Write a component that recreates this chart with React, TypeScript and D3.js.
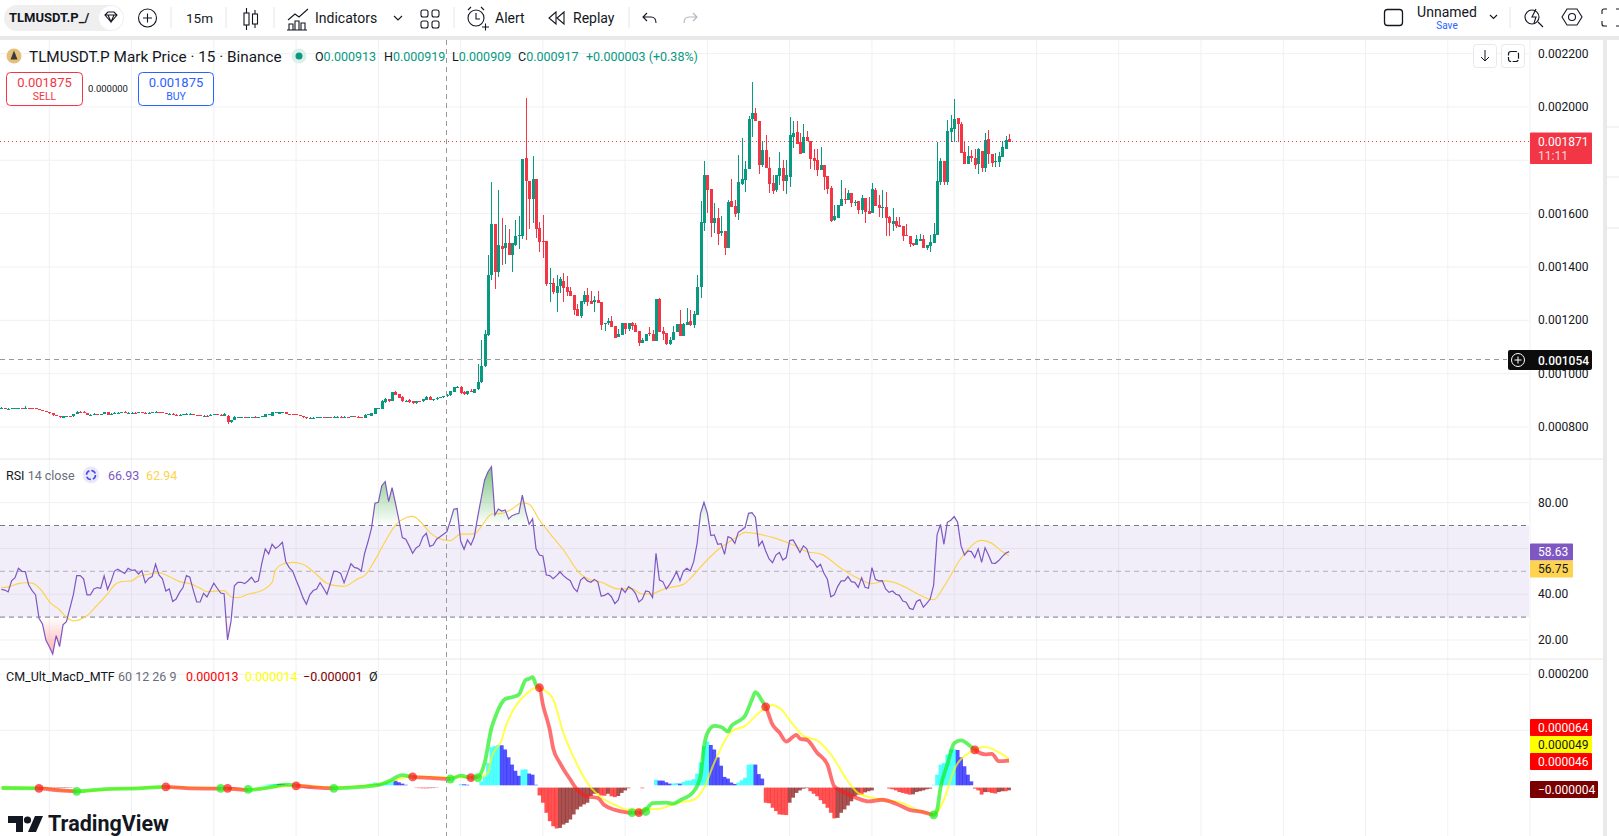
import React from "react";
import * as d3 from "d3";

// all prices in 1e-6 units, one row per 15m bar: open, high, low, close
const flatCandles = [
  [868,876,866,871],[871,872,866,868],[868,873,865,868],[868,871,868,871],[871,872,870,871],[871,872,870,871],[871,872,870,870],[870,877,870,872],[872,873,870,871],[871,872,869,870],
  [870,870,866,867],[867,868,862,864],[864,864,859,861],[861,861,855,856],[856,856,849,851],[851,851,840,844],[844,845,842,843],[843,843,832,836],[833,842,832,841],[841,843,840,842],
  [842,843,840,841],[840,850,839,850],[850,859,848,858],[858,859,856,857],[857,861,851,854],[853,853,844,846],[846,849,844,846],[846,853,846,849],[849,850,847,848],[848,850,847,849],
  [850,858,847,855],[855,855,844,845],[846,851,845,850],[850,855,849,853],[853,857,852,854],[854,856,853,855],[855,859,853,853],[853,856,852,854],[854,855,853,854],[854,855,852,853],
  [853,858,852,855],[855,856,852,853],[853,855,851,852],[850,855,847,853],[853,857,852,855],[855,859,854,856],[856,857,854,855],[855,855,852,853],[853,853,849,850],[850,851,849,850],
  [850,851,845,846],[846,847,844,845],[845,847,844,846],[846,849,845,848],[848,851,848,850],[850,851,849,850],[850,850,845,846],[846,846,844,845],[845,845,842,843],[843,844,842,843],
];
const dipCandles = [
  [843,845,841,842],[844,848,843,846],[846,848,845,847],[847,848,845,846],[846,847,841,843],[843,851,841,848],[842,845,812,817],[817,828,816,827],[827,840,826,838],[837,838,836,837],
  [837,838,836,838],[838,839,836,837],[837,838,835,837],[837,839,836,838],[838,840,836,837],[837,838,835,837],[837,843,836,842],[838,848,837,847],[847,848,846,847],[842,856,841,855],
  [855,857,854,855],[850,856,849,855],[855,857,854,856],[856,857,847,849],[849,850,847,848],[848,848,846,847],[847,848,844,845],[845,846,840,841],[841,841,834,836],[836,836,830,834],
  [833,836,832,835],[835,836,834,835],[835,838,834,838],[838,839,836,838],[838,838,834,835],[835,839,832,837],[837,839,833,835],[835,842,833,838],[838,840,836,839],[839,840,835,836],
  [836,840,835,838],[838,839,835,836],[836,842,836,840],[840,841,838,839],[839,840,836,837],[837,839,834,835],
];
const firstStepCandles = [
  [835,848,834,846],[846,849,845,847],[842,854,841,853],[850,872,849,872],[870,873,868,871],[868,900,866,898],[893,907,890,906],[904,906,892,898],[898,932,896,932],[932,934,920,921],
  [923,925,909,910],[913,915,895,899],[899,901,896,899],[901,904,890,894],[898,899,885,889],[889,898,887,897],[897,899,894,895],[896,905,895,904],[901,915,900,913],[913,916,900,903],
  [903,906,898,905],[905,912,902,910],[908,914,907,912],[911,918,910,915],[915,922,913,919],[920,936,918,934],[933,950,931,949],[950,955,948,950],[951,955,925,929],[933,936,921,922],
  [922,935,920,934],[936,944,930,930],[929,944,928,943],[941,1037,938,970],
];
const spikeCandles = [
  [967,1127,964,1030],[1027,1162,1025,1150],[1146,1446,1140,1371],[1371,1720,1352,1562],[1562,1562,1317,1383],[1380,1689,1361,1483],[1479,1583,1408,1468],[1473,1558,1412,1491],[1491,1543,1446,1446],[1446,1491,1380,1491],
  [1483,1577,1477,1517],[1517,1592,1468,1521],[1517,1805,1506,1805],[1809,2034,1502,1723],[1723,1723,1543,1655],[1655,1816,1564,1730],[1730,1730,1509,1543],[1547,1569,1457,1494],[1497,1596,1435,1495],[1498,1498,1330,1337],
];
const baseCandles = [
  [1337,1397,1270,1340],[1341,1360,1300,1307],[1304,1371,1232,1330],[1330,1363,1304,1356],[1348,1378,1270,1322],[1326,1367,1292,1307],[1311,1326,1292,1292],[1296,1296,1221,1240],[1244,1262,1217,1217],[1217,1274,1210,1274],
  [1270,1311,1262,1296],[1296,1322,1255,1270],[1274,1311,1262,1262],[1267,1292,1232,1277],[1277,1311,1266,1266],[1270,1270,1165,1184],[1186,1191,1161,1191],[1189,1210,1182,1199],[1199,1217,1176,1176],[1180,1180,1135,1135],
  [1139,1169,1139,1150],[1146,1191,1146,1191],[1191,1191,1150,1169],[1169,1191,1161,1191],[1191,1195,1165,1180],[1184,1191,1157,1157],[1161,1161,1105,1116],[1116,1135,1116,1128],[1124,1150,1124,1150],[1154,1176,1143,1150],
  [1150,1165,1124,1124],[1124,1281,1124,1281],[1281,1285,1157,1157],[1161,1176,1128,1150],[1154,1154,1109,1112],[1112,1139,1109,1128],[1128,1180,1128,1157],[1155,1187,1155,1187],[1187,1240,1142,1142],[1142,1191,1142,1187],
  [1181,1247,1181,1195],[1199,1240,1180,1184],[1184,1236,1172,1225],[1221,1371,1221,1326],[1326,1648,1285,1569],[1566,1798,1536,1745],
];
const topCandles = [
  [1745,1745,1603,1689],[1693,1693,1513,1566],[1566,1640,1528,1584],[1584,1622,1483,1524],[1527,1592,1517,1535],[1535,1535,1446,1473],[1473,1652,1473,1645],[1648,1731,1626,1626],[1630,1652,1589,1600],[1604,1821,1577,1720],
  [1712,1883,1708,1731],[1727,1798,1682,1768],[1768,1967,1768,1956],[1956,2094,1889,1978],[1978,1997,1948,1948],[1948,1948,1750,1783],[1783,1873,1776,1839],[1839,1896,1772,1772],[1772,1813,1678,1712],[1716,1746,1675,1686],
  [1690,1746,1682,1746],[1742,1832,1708,1772],[1772,1802,1686,1723],[1723,1802,1675,1746],[1738,1963,1701,1896],[1888,1948,1847,1903],[1907,1948,1862,1862],[1869,1903,1824,1824],[1828,1937,1828,1888],[1888,1911,1873,1873],
  [1873,1873,1768,1806],[1810,1843,1764,1798],[1802,1843,1742,1765],[1765,1851,1765,1783],[1783,1783,1690,1738],[1742,1742,1675,1693],[1697,1705,1570,1574],[1577,1634,1574,1592],[1585,1634,1585,1634],[1630,1727,1630,1656],
  [1656,1697,1637,1652],[1652,1690,1652,1678],[1678,1678,1626,1641],[1642,1652,1630,1645],[1648,1648,1600,1615],[1615,1671,1600,1660],[1660,1660,1566,1607],[1611,1664,1600,1600],
];
const secondBaseCandles = [
  [1604,1716,1604,1693],[1690,1697,1630,1630],[1634,1671,1589,1622],[1622,1690,1585,1626],[1626,1682,1517,1585],[1589,1592,1517,1566],[1562,1622,1536,1574],[1574,1589,1547,1555],[1559,1589,1551,1551],[1555,1555,1499,1517],
  [1521,1562,1515,1515],[1517,1517,1476,1488],[1491,1491,1480,1484],[1484,1521,1484,1503],[1499,1525,1499,1506],[1506,1521,1473,1473],[1473,1484,1465,1484],[1480,1521,1458,1495],[1491,1566,1491,1525],[1521,1869,1521,1723],
  [1720,1810,1708,1798],[1798,1798,1708,1720],[1720,1952,1708,1911],[1907,1970,1869,1922],[1918,2030,1869,1955],[1959,1959,1869,1937],[1937,1944,1828,1828],
];
const lastCandles = [
  [1832,1869,1786,1787],[1787,1854,1785,1817],[1817,1840,1795,1810],[1810,1843,1768,1783],[1787,1847,1750,1843],[1836,1836,1755,1772],[1772,1903,1755,1877],[1881,1914,1787,1824],[1824,1824,1775,1790],[1794,1828,1775,1798],
  [1794,1832,1775,1817],[1813,1873,1811,1850],[1843,1891,1843,1877],[1880,1899,1869,1869],
];
const candles = [...flatCandles, ...dipCandles, ...firstStepCandles, ...spikeCandles, ...baseCandles, ...topCandles, ...secondBaseCandles, ...lastCandles];

const priceTicks = [2200, 2000, 1800, 1600, 1400, 1200, 1000, 800];
const rsiTicks = [80, 60, 40, 20];
const rsiLevels = [70, 50, 30];
const macdTicks = [200, 100];

const rsiValues = [
  42.1,41.8,41,45.8,47.2,51.3,50,49.9,44,41.6,39.7,29.5,27,20,17.1,13.9,21.9,17.1,26.6,28,
  33.8,39.7,48.1,48.1,46.7,39.7,39.7,42.3,42.9,42.6,48,42.1,45.5,50.1,50.9,49.9,49.1,51.3,50.4,50.6,
  48.8,50.3,45,46.9,47.7,53.1,48.4,46.7,41.4,42.3,36.8,37.9,40.8,42.9,48.1,47.4,41.8,36.6,36.6,40.4,
  38.8,41.8,44.8,42.6,40.5,40.2,20,28,43.7,45.2,45.2,44.6,45.9,47.4,45.2,45.8,53.5,59.8,57.6,61.8,
  60,61.1,62.7,54.2,51.6,50.1,46.2,42.6,38.5,35.6,39.7,41.6,42.3,45,42.6,40,44.8,50.1,49.9,49.1,
  45,49.1,53.3,51.7,51.3,50.1,57.9,63,68.8,79.7,80.1,87.4,89.2,80.4,86.5,79.7,72.4,64.7,64,61.1,
  57.9,60.2,61.2,65.1,66.6,60.9,61.5,64,65.1,66.2,67.3,72,77.1,77.4,63.2,59.6,63.7,61.5,65.1,73.9,
  81.9,89.9,93.5,95.7,74.6,77.2,76.3,76.8,72.9,74.3,74.9,75.3,83.3,76.1,70.5,72.9,59.8,57.1,56.7,48.4,
  48.1,46.8,48.1,49.7,48.1,46.9,45.9,42.6,41.1,46.2,47.4,45.8,45.2,46.4,45.5,39.2,39.5,40.4,38.9,35.9,
  37.5,42.6,40.8,43.3,42.3,40.4,36.6,37.8,41.4,41.1,38.5,57.9,46.2,45.5,42.3,44.3,46.9,49.9,45.9,50.1,
  51.3,50.1,54.2,62.2,75.3,80.1,75.3,65.6,65.9,61.8,62.1,57.4,65.1,64.4,62.2,67,68,69.2,75.3,75.6,
  73.6,61.1,63.2,58.9,55.4,53.8,57.1,58.2,54.9,56,63.4,63.7,61.1,58.2,61.1,59.8,55.4,54.2,51.7,53.1,
  49.1,46.5,38.9,39.7,43.3,45.8,45.8,47.7,45.5,45.2,43,47.2,43,42.6,51.6,46.5,45.8,45.9,42.3,40.8,
  41.4,40,39.5,37,36.5,33.8,33.3,36.8,37.6,34.3,36,37.9,44,65.9,70.5,61.8,71.4,72.3,73.9,71.4,
  61.1,57.1,58.9,58.6,56,59.8,53.9,60.3,57.1,53.6,53.5,54.7,56.4,57.9,58.6,
];

const rsiMaBars = [0,2,5,7,9,12,14,17,19,21,23,25,28,31,33,35,38,40,43,46,49,52,55,58,60,65,67,69,72,76,79,80,82,85,88,91,95,98,100,104,106,109,112,115,118,120,122,125,129,131,134,138,140,143,146,149,152,154,157,160,164,169,172,175,180,184,187,189,194,199,202,205,209,214,217,221,226,231,235,239,245,250,254,258,264,267,272,275,280,286,289,292,294];
const rsiMaValues = [42.9,43.2,44.6,45,44.8,41.1,36.8,33.1,29.9,28.3,29,30.6,35.3,40.1,44,45.5,45.8,47.8,48.7,49.4,47.7,45.5,44.6,42.6,41.1,41.6,38.9,38.5,40,41.6,45.2,50.6,53.1,53.9,53.1,49.9,44.8,43.6,43.4,46.7,48.1,54.9,63,70.2,73.4,74,72.1,67,63.7,63.4,66.2,66.3,69.5,74.9,75.3,77.2,80,79.3,72.4,66.6,59.3,48.7,46.2,45.2,42.3,42.3,40,40,42.6,44.3,48.4,53.5,59.3,64.4,67,66.2,64.4,61.5,58.6,57.6,51.3,46.9,44.6,45.8,42.9,40.4,37.6,43.3,55.7,63.5,62.2,58.6,56.75];

const macdBars = [0,11,16,22,30,40,48,55,64,66,72,79,83,86,91,97,105,110,113,117,120,125,131,134,137,139,141,143,144,146,147,149,151,153,154,155,156,157,158,160,161,163,166,168,171,174,176,179,182,186,188,190,194,196,198,202,204,205,206,208,210,212,213,215,217,219,220,222,223,225,227,229,232,233,235,238,241,243,246,250,253,257,261,265,269,272,273,274,276,278,280,283,284,287,289,291,294];
const macdValues = [-3,-3.6,-7,-9,-5,-3.6,-1.2,-3.6,-4.2,-4.2,-6.5,-1.2,3,1.8,-1.8,-3.6,-1.2,2.4,8.9,20,16.7,15,13,19,15.5,16.7,41.6,104,122,149,156,159,164,190,192,195,181,176,146,101,68,41.6,12,-6,-18,-21,-34,-42,-46,-47.6,-42,-30,-29,-31,-25,-9,18,71,95,108,106,98,108,116,126,155,168,152,142,110,96,80,92,85,83,60,39,0,-11,-22,-27,-24,-31,-42,-46,-51,-42,-3,39,77,82,70,65,57,58,45,46];
const signalBars = [0,11,16,22,30,48,64,72,83,86,97,106,112,117,120,131,139,142,143,146,147,150,153,156,157,158,161,164,168,171,174,179,183,192,197,202,205,208,213,217,221,225,227,231,234,238,242,247,250,257,263,267,271,272,275,278,283,287,292,294];
const signalValues = [-2.4,-2.4,-6,-9,-6,-1.2,-3.6,-5.4,0.6,1.8,-1.8,1.2,6,15,18,16,16,24,51,83,104,143,164,176,176,173,155,95,39,6,-15,-33,-42,-40,-30,-24,-3,42,98,108,131,145,140,110,90,82,57,9,-12,-24,-30,-42,-49,-51,-24,30,62,70,57,49];

const histValues = [
  0,0,0,0,0,0,0,0,0,0,0,0,-0.5,-1,-1.2,-1.4,-1.5,-1.2,-1,-0.8,
  -0.5,-0.3,0,0,0,0,0,0,0,0,0,0,0,0,0,0,0,0,0,0,
  0,0,0,0,0,0,0,0,0,0,-0.3,-0.5,-0.7,-0.6,-0.4,0,0,0,0,0,
  0,0,0,0,-0.5,-1,-1.4,-1,-0.8,-0.5,-0.3,0,0,0,0,0,0.5,1,1.5,2,
  2.5,2.4,2,1,0,0,-0.5,-1,-1,-1,-0.8,-0.6,-0.4,0,0,0,0,0,0,0,
  0,0,0,0,0,0,0.5,1.5,3,5,2,4,5,6,8.8,8.3,5.4,3,1,0,
  0,-0.5,-1,-1.2,-1.3,-1,-0.8,-0.5,0,0,0,0,0,0,2,1.8,1,0,0,0,
  7,16,40,68,70,72,71.5,64,50,37,26,17,28,28.5,21,19,1,-14,-27,-45,
  -60,-69,-73,-72,-66,-63,-57,-48,-39,-34,-30,-27,-15,-11,-10.5,-14,-14.5,-11,-15.5,-17,
  -15,-9.5,-5,-1.2,0,0,0,-1.2,0,0,0,10,8.5,8.3,5.4,3,3.2,4,3,6,
  8.5,8.6,11,21,41,70,78,72,64,50,35,15,12,5,2.4,5,9,13.5,37,37.5,
  37,20,12,-27,-28,-36,-42,-48,-48.5,-49,-27,-18,-9.5,-5,-2,-1,-6.5,-11,-15.5,-22.5,
  -29,-36,-45,-55,-54,-45,-39,-32,-24.5,-15.5,-12.5,-12.6,-8.5,-6.5,-5,0,0,0,0,-1.8,
  -3,-5,-8,-9.5,-11,-12.5,-12,-8,-6.5,-5,-3,-1.8,1,19,37,40,55,64,64.5,63,
  50,34,19,7,-1.8,-5,-12.5,-8,-8,-9.5,-10.5,-8,-6.5,-6.5,-4.8,
];

// macd / signal crossings, red first then alternating with green
const crossBars = [11,22,48,64,66,72,86,97,120,131,137,139,157,184,186,188,223,272,284];
const crossValues = [-3.6,-9,-1.2,-3.6,-3.6,-5.4,0.6,-3.6,16.7,13,15.5,15.5,176,-47,-47,-45,142,-51,65];

const WIDTH = 1619;
const HEIGHT = 836;
const AXIS_X = 1529;
const PANE_RIGHT = 1603;
const TOP = 40;
const RSI_TOP = 459;
const MACD_TOP = 659;
const UI_FONT = "Roboto, sans-serif";
const GREEN = "#089981";
const RED = "#f23645";
const INK = "#131722";
const GRID = "#f0f1f4";
const PURPLE = "#7e57c2";
const GOLD = "#fdd34f";

const x = d3.scaleLinear().domain([14, 278]).range([49.3, 954.2]);
const yPrice = d3.scaleLinear().domain([800, 2200]).range([427, 53.6]);
const yRsi = d3.scaleLinear().domain([50, 80]).range([571.3, 502.6]);
const yMacd = d3.scaleLinear().domain([0, 200]).range([786.3, 674.3]);

const bars = d3.range(candles.length);
const xGrid = d3.range(-10, 450, 24);

const rsiLine = d3.line<number>().x((_, i) => x(i)).y(d => yRsi(d));
const rsiMaLine = d3.line<number>().x((_, i) => x(rsiMaBars[i])).y(d => yRsi(d)).curve(d3.curveMonotoneX);
const macdLine = d3.line<number>().x((_, i) => x(macdBars[i])).y(d => yMacd(d)).curve(d3.curveMonotoneX);
const signalLine = d3.line<number>().x((_, i) => x(signalBars[i])).y(d => yMacd(d)).curve(d3.curveMonotoneX);
const rsiUpper = d3.area<number>().x((_, i) => x(i)).y0(yRsi(70)).y1(d => yRsi(Math.max(d, 70)));
const rsiLower = d3.area<number>().x((_, i) => x(i)).y0(yRsi(30)).y1(d => yRsi(Math.min(d, 30)));

const histColor = (v: number, i: number) => {
  const prev = i > 0 ? histValues[i - 1] : 0;
  if (v >= 0) return v >= prev ? "#00ffff" : "#0000ff";
  return v <= prev ? "#ff0000" : "#800000";
};

const macdStretches = d3.range(crossBars.length + 1).map(i => ({
  from: i === 0 ? 0 : crossBars[i - 1],
  to: i === crossBars.length ? candles.length : crossBars[i],
  color: i % 2 === 0 ? "#00ee00" : "#ff1a1a",
}));

const Label: React.FC<{ y: number; h: number; w?: number; bg: string; fg: string; text: string }> = ({ y, h, w = 62, bg, fg, text }) => (
  <g>
    <rect x={1530} y={y} width={w} height={h} fill={bg} rx={1} />
    <text x={1538} y={y + h / 2 + 4} fontSize={12} fill={fg}>{text}</text>
  </g>
);

const Toolbar = () => {
  const stroke = { fill: "none", stroke: INK, strokeWidth: 1.1 };
  return (
    <g fontFamily={UI_FONT} fill={INK}>
      <rect x={0} y={0} width={WIDTH} height={36} fill="#fff" />
      <rect x={0} y={36} width={WIDTH} height={4} fill="#e9e9e9" />
      <rect x={4} y={5} width={120} height={26} rx={13} fill="#efefef" />
      <text x={9} y={22} fontSize={13} fontWeight={700}>TLMUSDT.P_/</text>
      <circle cx={111} cy={18} r={12} fill="#fff" />
      <path d="M105 15l3-3h6l3 3-6 7z M105 15h12 M108 15l3 7 3-7" {...stroke} />
      <circle cx={147.5} cy={18} r={9} {...stroke} />
      <path d="M143 18h9 M147.5 13.5v9" {...stroke} />
      <text x={186} y={23} fontSize={13.5}>15m</text>
      <rect x={244} y={13} width={5} height={12} {...stroke} />
      <path d="M246.5 8v5 M246.5 25v5 M255 14v-4 M255 24v4" {...stroke} />
      <rect x={252.5} y={14} width={5} height={10} {...stroke} />
      <path d="M288 20l7-6 4 3 9-8 M289 30v-6h4v6 M295 30v-9h4v9 M301 30v-7h4v7 M287 30h20" {...stroke} />
      <text x={315} y={23} fontSize={14}>Indicators</text>
      <path d="M394 16l4 4 4-4" {...stroke} />
      <rect x={421} y={10} width={7} height={7} rx={2} {...stroke} />
      <rect x={432} y={10} width={7} height={7} rx={2} {...stroke} />
      <rect x={421} y={21} width={7} height={7} rx={2} {...stroke} />
      <rect x={432} y={21} width={7} height={7} rx={2} {...stroke} />
      <circle cx={476} cy={18} r={8} {...stroke} />
      <path d="M476 13v6h4 M468 10l3-3 M484 10l-3-3 M482 27h7 M485.5 23.5v7" {...stroke} />
      <text x={495} y={23} fontSize={14}>Alert</text>
      <path d="M556 12l-7 6 7 6z M564 12l-7 6 7 6z" {...stroke} />
      <text x={573} y={23} fontSize={14}>Replay</text>
      <path d="M647 13l-4 4 4 4 M643 17h8q5 0 5 6" {...stroke} />
      <path d="M693 13l4 4-4 4 M697 17h-8q-5 0-5 6" fill="none" stroke="#b2b5be" strokeWidth={1.1} />
      {[171, 226, 274, 454, 629, 1510].map(sx => (
        <line key={sx} x1={sx} x2={sx} y1={7} y2={28} stroke="#e6e6e6" />
      ))}
      <rect x={1384.5} y={9.5} width={18} height={16} rx={3} {...stroke} strokeWidth={1.3} />
      <text x={1447} y={17} fontSize={14} textAnchor="middle">Unnamed</text>
      <text x={1447} y={29} fontSize={10} fill="#2962ff" textAnchor="middle">Save</text>
      <path d="M1490 15l3.5 3.5 3.5-3.5" {...stroke} />
      <circle cx={1532} cy={17} r={7} {...stroke} />
      <path d="M1538 22l5 5 M1536 9l-4 8h4l-2 6" {...stroke} />
      <path d="M1562 17l5-8h10l5 8-5 8h-10z" {...stroke} />
      <circle cx={1572} cy={17} r={3.5} {...stroke} />
      <path d="M1602 14v-3q0-2 2-2h3 M1619 9h-3 M1602 21v3q0 2 2 2h3 M1619 26h-3" {...stroke} />
    </g>
  );
};

const PriceLegend = () => (
  <g fontFamily={UI_FONT}>
    <circle cx={14} cy={56} r={7.5} fill="#e5c07b" />
    <path d="M14 50.5l-3.5 9h7z" fill="#3b3b3b" />
    <text x={29} y={61.5} fontSize={15.3} fill={INK}>TLMUSDT.P Mark Price · 15 · Binance</text>
    <circle cx={299} cy={56} r={7.5} fill="#dcefeb" />
    <circle cx={299} cy={56} r={3.5} fill={GREEN} />
    <text x={315} y={61} fontSize={12.5} fill={INK}>
      O<tspan fill={GREEN}>0.000913</tspan>
      <tspan x={384}>H</tspan><tspan fill={GREEN}>0.000919</tspan>
      <tspan x={452}>L</tspan><tspan fill={GREEN}>0.000909</tspan>
      <tspan x={518}>C</tspan><tspan fill={GREEN}>0.000917</tspan>
      <tspan x={586} fill={GREEN}>+0.000003 (+0.38%)</tspan>
    </text>
    <rect x={6.5} y={72.5} width={76} height={33} rx={4} fill="#fff" stroke={RED} />
    <text x={44.5} y={87} fontSize={13} fill={RED} textAnchor="middle">0.001875</text>
    <text x={44.5} y={100} fontSize={10.5} fill={RED} textAnchor="middle">SELL</text>
    <text x={108} y={92} fontSize={9.5} fill={INK} textAnchor="middle">0.000000</text>
    <rect x={138.5} y={72.5} width={75} height={33} rx={4} fill="#fff" stroke="#2962ff" />
    <text x={176} y={87} fontSize={13} fill="#2962ff" textAnchor="middle">0.001875</text>
    <text x={176} y={100} fontSize={10.5} fill="#2962ff" textAnchor="middle">BUY</text>
    <rect x={1473.5} y={44.5} width={23} height={23} rx={3} fill="#fff" stroke="#e6e8ee" />
    <path d="M1485 50v11 M1481 57l4 4 4-4" fill="none" stroke={INK} />
    <rect x={1501.5} y={44.5} width={23} height={23} rx={3} fill="#fff" stroke="#e6e8ee" />
    <rect x={1508.5} y={51.5} width={10} height={10} rx={2.5} fill="none" stroke={INK} strokeWidth={1.2} strokeDasharray="6 1.5" />
  </g>
);

const App = () => (
  <svg width={WIDTH} height={HEIGHT} style={{ display: "block", background: "#fff" }}>
    <style>{`body{margin:0}`}</style>
    <defs>
      <linearGradient id="rsiOver" gradientUnits="userSpaceOnUse" x1={0} x2={0} y1={yRsi(100)} y2={yRsi(70)}>
        <stop offset="0" stopColor="#4caf50" stopOpacity={0.85} />
        <stop offset="1" stopColor="#4caf50" stopOpacity={0} />
      </linearGradient>
      <linearGradient id="rsiUnder" gradientUnits="userSpaceOnUse" x1={0} x2={0} y1={yRsi(30)} y2={yRsi(0)}>
        <stop offset="0" stopColor="#ff5252" stopOpacity={0} />
        <stop offset="1" stopColor="#ff5252" stopOpacity={0.85} />
      </linearGradient>
      {macdStretches.map((s, i) => (
        <clipPath id={`macdClip${i}`} key={i}>
          <rect x={x(s.from)} y={MACD_TOP} width={x(s.to) - x(s.from)} height={HEIGHT - MACD_TOP} />
        </clipPath>
      ))}
      <clipPath id="plotClip"><rect x={0} y={TOP} width={AXIS_X} height={HEIGHT - TOP} /></clipPath>
    </defs>

    <Toolbar />

    {/* grid */}
    <g stroke={GRID}>
      {xGrid.map(b => <line key={b} x1={x(b)} x2={x(b)} y1={TOP} y2={HEIGHT} />)}
      {priceTicks.map(t => <line key={t} x1={0} x2={AXIS_X} y1={yPrice(t)} y2={yPrice(t)} />)}
      {rsiTicks.map(t => <line key={t} x1={0} x2={AXIS_X} y1={yRsi(t)} y2={yRsi(t)} />)}
      {macdTicks.map(t => <line key={t} x1={0} x2={AXIS_X} y1={yMacd(t)} y2={yMacd(t)} />)}
    </g>
    <g stroke="#e6e6e6">
      <line x1={0} x2={PANE_RIGHT} y1={RSI_TOP} y2={RSI_TOP} />
      <line x1={0} x2={PANE_RIGHT} y1={MACD_TOP} y2={MACD_TOP} />
    </g>

    {/* candles */}
    <g shapeRendering="crispEdges">
      {bars.map(i => {
        const [o, h, l, c] = candles[i];
        const cx = Math.round(x(i));
        const top = yPrice(Math.max(o, c));
        const bodyH = Math.max(1, yPrice(Math.min(o, c)) - top);
        const color = c >= o ? GREEN : RED;
        return (
          <g key={i} fill={color}>
            <rect x={cx} y={yPrice(h)} width={1} height={yPrice(l) - yPrice(h)} />
            <rect x={cx - 1} y={top} width={3} height={bodyH} />
          </g>
        );
      })}
    </g>

    {/* current price */}
    <line x1={0} x2={AXIS_X} y1={141.5} y2={141.5} stroke={RED} strokeDasharray="1 3" />

    {/* rsi pane */}
    <g clipPath="url(#plotClip)">
      <rect x={0} y={yRsi(70)} width={AXIS_X} height={yRsi(30) - yRsi(70)} fill={PURPLE} fillOpacity={0.1} />
      {rsiLevels.map(l => (
        <line key={l} x1={0} x2={AXIS_X} y1={yRsi(l)} y2={yRsi(l)} stroke="#787b86" strokeDasharray="5 4" strokeOpacity={l === 50 ? 0.55 : 1} />
      ))}
      <path d={rsiUpper(rsiValues) ?? ""} fill="url(#rsiOver)" />
      <path d={rsiLower(rsiValues) ?? ""} fill="url(#rsiUnder)" />
      <path d={rsiMaLine(rsiMaValues) ?? ""} fill="none" stroke={GOLD} strokeWidth={1.2} />
      <path d={rsiLine(rsiValues) ?? ""} fill="none" stroke={PURPLE} strokeWidth={1.2} />
    </g>

    {/* macd pane */}
    <g>
      {histValues.map((v, i) => v === 0 ? null : (
        <rect key={i} x={x(i) - 1.9} width={3.8}
          y={v > 0 ? yMacd(v) - 1 : yMacd(0) + 1.3}
          height={Math.abs(yMacd(v) - yMacd(0))}
          fill={histColor(v, i)} fillOpacity={0.68} />
      ))}
      <path d={signalLine(signalValues) ?? ""} fill="none" stroke="#ffff00" strokeOpacity={0.7} strokeWidth={2} />
      {macdStretches.map((s, i) => (
        <path key={i} d={macdLine(macdValues) ?? ""} clipPath={`url(#macdClip${i})`} fill="none" stroke={s.color} strokeOpacity={0.62} strokeWidth={3.8} strokeLinejoin="round" />
      ))}
      {crossBars.map((b, i) => (
        <circle key={b} cx={x(b)} cy={yMacd(crossValues[i])} r={4.4} fill={i % 2 === 0 ? "#ff1a1a" : "#22ee22"} fillOpacity={0.72} />
      ))}
    </g>

    {/* crosshair */}
    <line x1={446.5} x2={446.5} y1={TOP} y2={HEIGHT} stroke="#9a9a9a" strokeDasharray="5 4" />
    <line x1={0} x2={1507} y1={359.5} y2={359.5} stroke="#9a9a9a" strokeDasharray="5 4" />

    <PriceLegend />

    {/* indicator legends */}
    <g fontFamily={UI_FONT} fontSize={12.5}>
      <text x={6} y={480} fill={INK}>RSI <tspan fill="#6a6d78">14 close</tspan></text>
      <circle cx={91} cy={475} r={8.5} fill="#ece8f8" />
      <circle cx={91} cy={475} r={4.5} fill="none" stroke="#3d4ef0" strokeWidth={1.6} strokeDasharray="5 2" />
      <text x={108} y={480} fill={PURPLE}>66.93</text>
      <text x={146} y={480} fill={GOLD}>62.94</text>
      <text x={6} y={681} fill={INK}>CM_Ult_MacD_MTF <tspan x={118} fill="#6a6d78">60 12 26 9</tspan></text>
      <text x={186} y={681} fill="#ff0000">0.000013</text>
      <text x={245} y={681} fill="#ffff00">0.000014</text>
      <text x={303} y={681} fill="#800000">−0.000001</text>
      <text x={369} y={681} fill={INK}>Ø</text>
    </g>

    {/* price axes */}
    <g fontFamily={UI_FONT} fontSize={12} fill={INK}>
      {priceTicks.map(t => <text key={t} x={1538} y={yPrice(t) + 4}>{d3.format(".6f")(t / 1e6)}</text>)}
      {rsiTicks.filter(t => t !== 60).map(t => <text key={t} x={1538} y={yRsi(t) + 4}>{d3.format(".2f")(t)}</text>)}
      <text x={1538} y={yMacd(200) + 4}>{d3.format(".6f")(200 / 1e6)}</text>
      <rect x={1530} y={132.5} width={62} height={31.5} fill={RED} rx={1} />
      <text x={1538} y={145.5} fill="#fff">0.001871</text>
      <text x={1538} y={160} fill="#ffd5d9">11:11</text>
      <rect x={1508} y={350} width={84} height={20} rx={2} fill="#0c0c0c" />
      <circle cx={1518} cy={360} r={6.5} fill="none" stroke="#fff" />
      <path d="M1514.5 360h7 M1518 356.5v7" stroke="#fff" />
      <text x={1538} y={364.5} fill="#fff" fontWeight={500}>0.001054</text>
      <Label y={543.5} h={17} w={43} bg={PURPLE} fg="#fff" text="58.63" />
      <Label y={560.5} h={17} w={43} bg={GOLD} fg={INK} text="56.75" />
      <Label y={719} h={17} bg="#ff0000" fg="#fff" text="0.000064" />
      <Label y={736} h={17} bg="#ffff00" fg={INK} text="0.000049" />
      <Label y={753} h={17} bg="#ff0000" fg="#fff" text="0.000046" />
      <Label y={781} h={17} w={68} bg="#7a0000" fg="#fff" text="−0.000004" />
    </g>

    {/* right edge */}
    <rect x={PANE_RIGHT} y={TOP} width={4} height={HEIGHT - TOP} fill="#e9e9e9" />
    <g stroke="#e9e9e9">
      {[127, 177, 228].map(ly => <line key={ly} x1={1607} x2={WIDTH} y1={ly} y2={ly} />)}
    </g>

    {/* watermark */}
    <g fill="#131722">
      <path d="M8 816h15v16h-7v-9h-8z" />
      <circle cx={27.5} cy={820} r={3.6} />
      <path d="M35 816h8l-7 16h-8z" />
      <text x={48} y={831} fontFamily={UI_FONT} fontSize={21.5} fontWeight={700}>TradingView</text>
    </g>
  </svg>
);

export default App;
